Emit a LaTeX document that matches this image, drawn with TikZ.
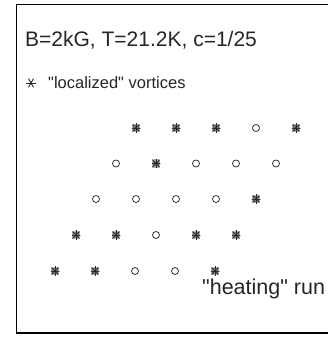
\documentclass[tikz,border=0pt]{standalone}
\usepackage{fontspec}
\setmainfont{Liberation Sans}
\newcommand{\dq}{\XeTeXglyph\XeTeXcharglyph"22\relax}
\begin{document}
\begin{tikzpicture}[x=1pt,y=-1pt,
  lbl/.style={inner sep=0pt,anchor=base west,text=black!85},
  opn/.style={draw=black!80,line width=0.8pt,fill=white,circle,inner sep=0pt,minimum size=7pt},
  loc/.style={rectangle,inner sep=0pt,minimum size=8.5pt,fill=black!30,
    path picture={\foreach \a in {0,45,90,135}{\draw[black!85,line width=0.8pt]
      ([shift={(\a:4.7pt)}]path picture bounding box.center) -- ([shift={(\a+180:4.7pt)}]path picture bounding box.center);}
      \draw[black!70,line width=0.6pt] (path picture bounding box.center) circle (2.7pt);}},
  legstar/.style={circle,inner sep=0pt,minimum size=11pt,
    path picture={\foreach \a in {0,60,120}{\draw[black!85,line width=0.9pt]
      ([shift={(\a:5pt)}]path picture bounding box.center) -- ([shift={(\a+180:5pt)}]path picture bounding box.center);}}}]
\useasboundingbox (0,0) rectangle (328,337);
\clip (0,0) rectangle (328,337);
\fill[white] (0,0) rectangle (328,337);
% frame
\draw[line width=1pt] (340,4.5) -- (16.5,4.5) -- (16.5,333) -- (340,333);
\draw[line width=2pt] (16,333) -- (340,333);
% texts
\node[lbl,font=\fontsize{21}{24}\selectfont] (title) at (25,47) {B=2kG, T=21.2K, c=1/25};
\node[lbl,font=\fontsize{16.5}{20}\selectfont] (leg) at (48,88) {\dq localized\dq\ vortices};
\node[lbl,font=\fontsize{21.5}{24}\selectfont] (run) at (202,294) {\dq heating\dq\ run};
% legend asterisk
\node[legstar] (legmark) at (31,83) {};
% lattice
\foreach \x/\t [count=\i] in {136/loc,176/loc,216/loc,256/opn,296/loc}{\node[\t] (r1-\i) at (\x,128) {};}
\foreach \x/\t [count=\i] in {116/opn,156/loc,196/opn,236/opn,276/opn}{\node[\t] (r2-\i) at (\x,163.5) {};}
\foreach \x/\t [count=\i] in {96/opn,136/opn,176/opn,216/opn,256/loc}{\node[\t] (r3-\i) at (\x,199) {};}
\foreach \x/\t [count=\i] in {76/loc,116/loc,156/opn,196/loc,236/loc}{\node[\t] (r4-\i) at (\x,235) {};}
\foreach \x/\t [count=\i] in {55/loc,95/loc,135/opn,175/opn,215/loc}{\node[\t] (r5-\i) at (\x,271) {};}
\end{tikzpicture}
\end{document}
